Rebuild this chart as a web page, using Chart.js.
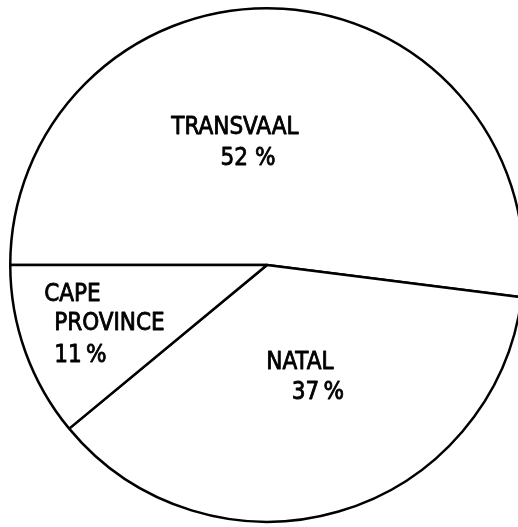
<!DOCTYPE html>
<html>
<head>
<meta charset="utf-8">
<script src="https://cdn.jsdelivr.net/npm/chart.js@4"></script>
<style>
  html, body { margin: 0; padding: 0; background: #fff; overflow: hidden; }
  #wrap { position: absolute; left: 0; top: 0; width: 534px; height: 531px; }
</style>
</head>
<body>
<div id="wrap"><canvas id="c"></canvas></div>
<script>
// Data
const categories = ["TRANSVAAL", "NATAL", "CAPE PROVINCE"];
const shares = [52, 37, 11];
const labelLines = [
  ["TRANSVAAL", "52 %"],
  ["NATAL", "37\u2009%"],
  ["CAPE", "PROVINCE", "11\u2009%"]
];

// Label placement (fractions of radius relative to pie centre)
const labelPlacement = [
  [{dx: -0.125, dy: -0.533, align: "center"}, {dx: -0.074, dy: -0.412, align: "center"}],
  [{dx: 0.128, dy: 0.381, align: "center"}, {dx: 0.198, dy: 0.498, align: "center"}],
  [{dx: -0.868, dy: 0.117, align: "left"}, {dx: -0.829, dy: 0.230, align: "left"}, {dx: -0.829, dy: 0.354, align: "left"}]
];

const labelPlugin = {
  id: "sliceLabels",
  afterDatasetsDraw(chart) {
    const meta = chart.getDatasetMeta(0);
    const arc = meta.data[0];
    if (!arc) return;
    const cx = arc.x, cy = arc.y, r = arc.outerRadius;
    const ctx = chart.ctx;
    ctx.save();
    ctx.fillStyle = "#000";
    ctx.strokeStyle = "#000";
    ctx.lineWidth = 0.8;
    ctx.lineJoin = "round";
    ctx.font = "24px 'Liberation Sans Narrow', 'DejaVu Sans Condensed', sans-serif";
    ctx.textBaseline = "middle";
    labelLines.forEach((lines, i) => {
      lines.forEach((t, j) => {
        const p = labelPlacement[i][j];
        ctx.textAlign = p.align;
        const x = cx + p.dx * r, y = cy + p.dy * r;
        ctx.fillText(t, x, y);
        ctx.strokeText(t, x, y);
      });
    });
    ctx.restore();
  }
};

new Chart(document.getElementById("c"), {
  type: "pie",
  data: {
    labels: categories,
    datasets: [{
      data: shares,
      backgroundColor: "#ffffff",
      borderColor: "#000000",
      borderWidth: 2.5,
      borderAlign: "center"
    }]
  },
  options: {
    responsive: true,
    maintainAspectRatio: false,
    animation: false,
    rotation: -90,
    layout: { padding: { left: 9, right: 9, top: 7, bottom: 8 } },
    plugins: {
      legend: { display: false },
      tooltip: { enabled: false }
    }
  },
  plugins: [labelPlugin]
});
</script>
</body>
</html>
